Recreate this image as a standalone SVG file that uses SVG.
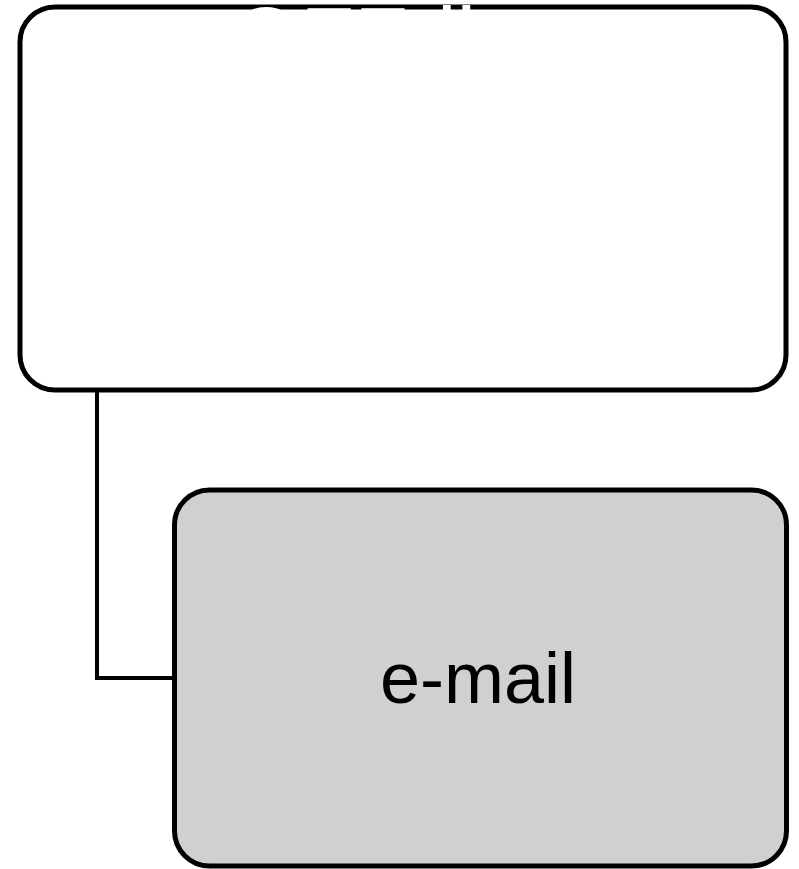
<svg xmlns="http://www.w3.org/2000/svg" width="799" height="869" viewBox="0 0 799 869">
  <style>
    .box { stroke: #000000; stroke-width: 5; }
    .conn { fill: none; stroke: #000000; stroke-width: 4; }
    .label { font-family: "Liberation Sans", Arial, sans-serif; fill: #000000; }
    .hidden { font-family: "Liberation Sans", Arial, sans-serif; fill: #ffffff; font-size: 88px; }
  </style>
  <rect width="799" height="869" fill="#ffffff"/>
  <g id="connectors">
    <polyline class="conn" points="97,390 97,678 175,678"/>
  </g>
  <g id="node-top">
    <rect class="box" x="20" y="7" width="766" height="383" rx="35" ry="35" fill="#ffffff"/>
    <text class="hidden"><tspan x="232" y="68">OFF</tspan><tspan x="437" y="68">ll</tspan></text>
  </g>
  <g id="node-email">
    <rect class="box" x="174.5" y="490" width="612" height="376" rx="35" ry="35" fill="#d0d0d0"/>
    <text class="label" x="478" y="703" font-size="72" text-anchor="middle">e-mail</text>
  </g>
</svg>
